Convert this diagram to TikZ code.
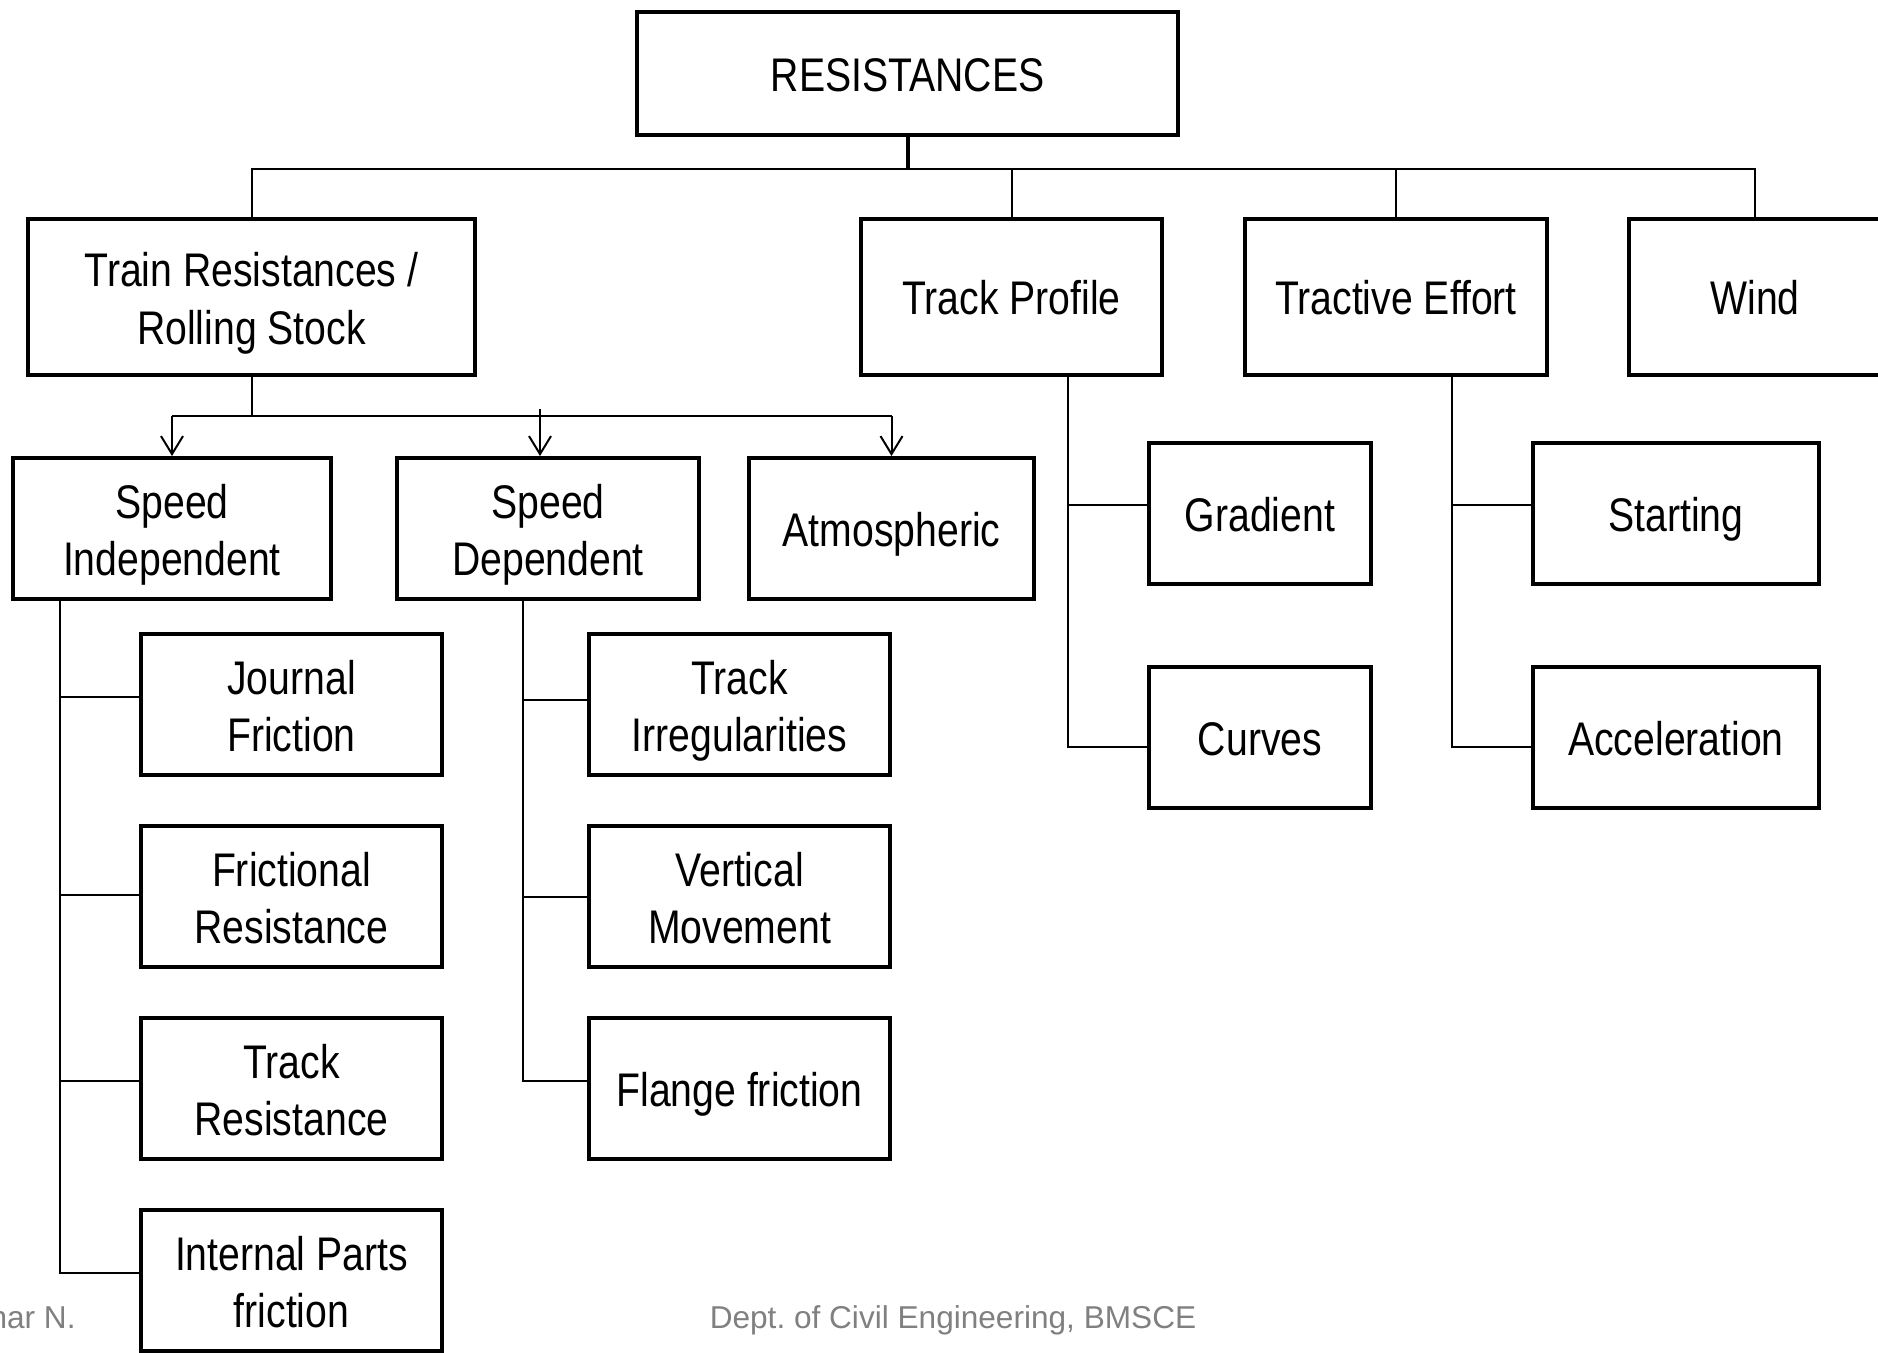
\documentclass[tikz,border=0pt]{standalone}
\usepackage{fontspec}
\setmainfont{Liberation Sans}[FakeStretch=0.83]
\newfontfamily\footfont{Liberation Sans}
\usepackage{xcolor}
\usepackage{tikz}
\usetikzlibrary{positioning,arrows.meta}
\definecolor{footgray}{RGB}{128,128,128}
\frenchspacing

\begin{document}
\begin{tikzpicture}[
		x=0.5pt,y=-0.5pt,
		box/.style={draw, line width=2pt, outer sep=1pt, inner sep=2pt, align=center,
			minimum height=70.5pt, text height=18.5pt, text depth=0.5pt,
			font=\fontsize{23.6}{28.8}\selectfont},
		two/.style={text height=48pt, text depth=0.6pt},
		conn/.style={line width=1pt},
		foot/.style={inner sep=0pt, text=footgray, font=\footfont\fontsize{15.8}{18}\selectfont},
		>={Straight Barb[length=9pt,width=11pt]}
		]
		\clip (0,0) rectangle (1878,1353);
		
		% ====== ROOT ======
		\node[box, minimum width=270.5pt, minimum height=61.5pt] (res) at (907.5,73.5) {RESISTANCES};
		
		% ====== LEVEL 1 ======
		\node[box, two, minimum width=223.5pt, minimum height=78pt] (trs) at (251.5,297)
		{Train Resistances /\\Rolling Stock};
		\node[box, minimum width=150.5pt, minimum height=78pt] (tp) at (1011.5,297) {Track Profile};
		\node[box, minimum width=151pt, minimum height=78pt] (te) at (1396,297) {Tractive Effort};
		\node[box, minimum width=126pt, minimum height=78pt] (wind) at (1755,297) {Wind};
		
		% ====== LEVEL 2 (rolling stock) ======
		\node[box, two, minimum width=159pt] (si) at (172,528.5) {Speed\\Independent};
		\node[box, two, minimum width=151pt] (sd) at (548,528.5) {Speed\\Dependent};
		\node[box, minimum width=142.5pt] (atm) at (891.5,528.5) {Atmospheric};
		
		% ====== SPEED INDEPENDENT ======
		\node[box, two, minimum width=150.5pt] (jf) at (291.5,704.5) {Journal\\Friction};
		\node[box, two, minimum width=150.5pt, below=23.5pt of jf] (fr) {Frictional\\Resistance};
		\node[box, two, minimum width=150.5pt, below=23.5pt of fr] (tr) {Track\\Resistance};
		\node[box, two, minimum width=150.5pt, below=23.5pt of tr] (ip) {Internal Parts\\friction};
		
		% ====== SPEED DEPENDENT ======
		\node[box, two, minimum width=150.5pt] (ti) at (739.5,704.5) {Track\\Irregularities};
		\node[box, two, minimum width=150.5pt, below=23.5pt of ti] (vm) {Vertical\\Movement};
		\node[box, minimum width=150.5pt, below=23.5pt of vm] (ff) {Flange friction};
		
		% ====== TRACK PROFILE / TRACTIVE EFFORT ======
		\node[box, minimum width=111pt] (gr) at (1260,513.5) {Gradient};
		\node[box, minimum width=111pt, below=39.5pt of gr] (cu) {Curves};
		\node[box, minimum width=143pt] (st) at (1676,513.5) {Starting};
		\node[box, minimum width=143pt, below=39.5pt of st] (ac) {Acceleration};
		
		% ====== FOOTER ======
		\node[foot, anchor=base east] (auth) at (76,1328) {har N.};
		\node[foot, anchor=base] (dept) at (953,1328) {Dept. of Civil Engineering, BMSCE};
		
		% ====== CONNECTORS ======
		\coordinate (bar) at (0,169);
		\draw[line width=2pt] (res.south) -- (res.south |- bar);
		\draw[conn] (trs.north) -- (trs.north |- bar) -- (wind.north |- bar) -- (wind.north);
		\foreach \n in {tp,te}
		\draw[conn] (\n.north) -- (\n.north |- bar);
		
		\coordinate (bar2) at (0,416);
		\draw[conn] (trs.south) -- (trs.south |- bar2);
		\draw[conn] (si.north |- bar2) -- (atm.north |- bar2);
		\foreach \n in {si,atm}
		\draw[conn,->] (\n.north |- bar2) -- (\n.north);
		\draw[conn,->] ([shift={(-4pt,3.5pt)}]sd.north |- bar2) -- ([xshift=-4pt]sd.north);
		
		% spines with side branches
		\coordinate (siSp) at ([xshift=24.5pt]si.south west);
		\coordinate (sdSp) at ([xshift=64pt]sd.south west);
		\coordinate (tpSp) at ([xshift=28.25pt]tp.south);
		\coordinate (teSp) at ([xshift=28pt]te.south);
		
		\draw[conn] (siSp) |- ([yshift=3.9pt]ip.west);
		\foreach \n/\s in {jf/3.9pt,fr/0.9pt,tr/3.9pt}
		\draw[conn] ([yshift=\s]\n.west) -- ([yshift=\s]\n.west -| siSp);
		
		\draw[conn] (sdSp) |- ([yshift=3.9pt]ff.west);
		\foreach \n/\s in {ti/2.1pt,vm/-0.3pt}
		\draw[conn] ([yshift=\s]\n.west) -- ([yshift=\s]\n.west -| sdSp);
		
		\draw[conn] (tpSp) |- ([yshift=-4.75pt]cu.west);
		\draw[conn] ([yshift=4.25pt]gr.west) -- ([yshift=4.25pt]gr.west -| tpSp);
		
		\draw[conn] (teSp) |- ([yshift=-4.75pt]ac.west);
		\draw[conn] ([yshift=4.25pt]st.west) -- ([yshift=4.25pt]st.west -| teSp);
		
\end{tikzpicture}
\end{document}
